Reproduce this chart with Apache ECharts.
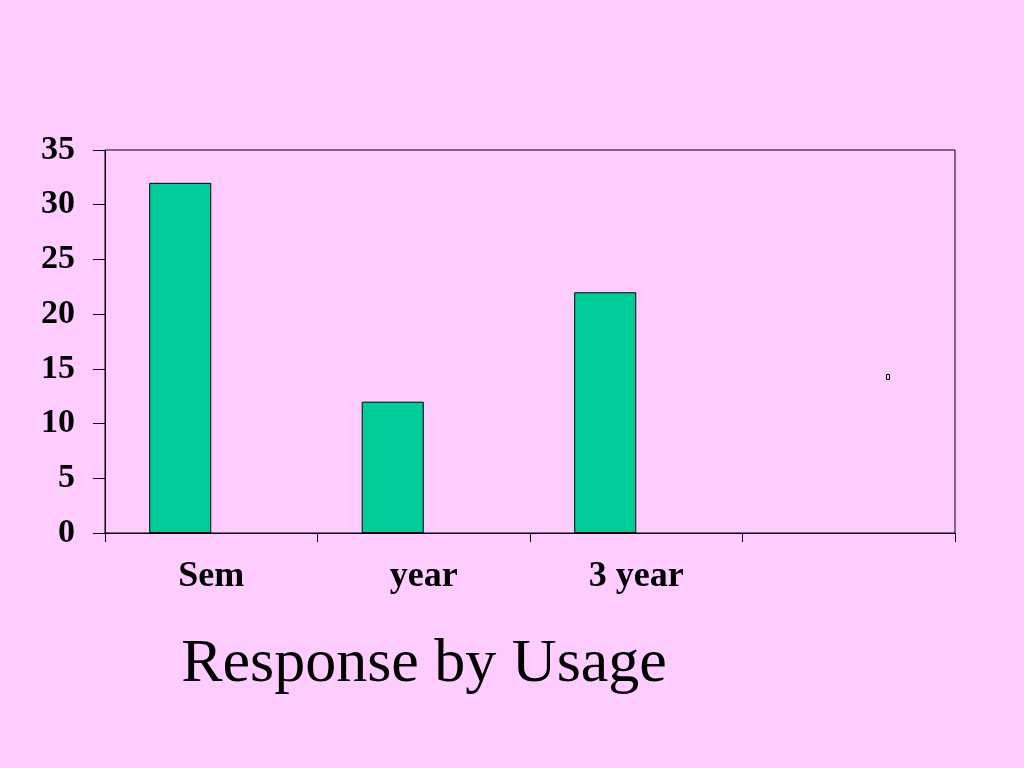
<!DOCTYPE html>
<html>
<head>
<meta charset="utf-8">
<script src="https://cdn.jsdelivr.net/npm/echarts@6/dist/echarts.min.js"></script>
<style>
html,body{margin:0;padding:0;background:#FFCCFF;}
#chart{width:1024px;height:768px;}
</style>
</head>
<body>
<div id="chart"></div>
<script>
const categories = ['Sem', 'year', '3 year', ''];
const responses = [32, 12, 22, null];
const secondSeries = [null, null, null, null];
const yTicks = { min: 0, max: 35, interval: 5 };
const titleText = 'Response by Usage';

const chart = echarts.init(document.getElementById('chart'), null, { renderer: 'canvas' });
chart.setOption({
  backgroundColor: '#FFCCFF',
  animation: false,
  title: {
    text: titleText,
    left: 424, top: 634, textAlign: 'center',
    padding: 0,
    textStyle: { fontFamily: 'Liberation Serif', fontWeight: 'normal', fontSize: 62, color: '#000' }
  },
  legend: {
    show: true,
    left: 886, top: 374, padding: 0,
    data: [{ name: ' ', icon: 'rect' }],
    itemWidth: 3, itemHeight: 5,
    itemStyle: { color: '#FFCCFF', borderColor: '#000', borderWidth: 1 },
    textStyle: { fontSize: 1, color: 'rgba(0,0,0,0)' },
    selectedMode: false
  },
  grid: {
    left: 105, right: 69, top: 150, bottom: 235,
    show: true, borderColor: '#000', borderWidth: 1, backgroundColor: 'transparent'
  },
  xAxis: {
    type: 'category',
    data: categories,
    axisLine: { lineStyle: { color: '#000', width: 1 } },
    axisTick: { show: true, length: 9, alignWithLabel: false, lineStyle: { color: '#000' } },
    axisLabel: { margin: 26, fontFamily: 'Liberation Serif', fontWeight: 'bold', fontSize: 36, color: '#000' }
  },
  yAxis: {
    type: 'value',
    min: yTicks.min, max: yTicks.max, interval: yTicks.interval,
    splitLine: { show: false },
    axisLine: { show: true, lineStyle: { color: '#000', width: 1 } },
    axisTick: { show: true, length: 12, lineStyle: { color: '#000' } },
    axisLabel: { margin: 30, fontFamily: 'Liberation Serif', fontWeight: 'bold', fontSize: 34, color: '#000', padding: [4, 0, 0, 0] }
  },
  series: [
    {
      name: 'Responses', type: 'bar', data: responses,
      barGap: '0%', barCategoryGap: '41.6%',
      itemStyle: { color: '#00CC99', borderColor: '#000', borderWidth: 1 }
    },
    {
      name: ' ', type: 'bar', data: secondSeries,
      itemStyle: { color: '#FFCCFF', borderColor: '#000', borderWidth: 1 }
    }
  ]
});
</script>
</body>
</html>
